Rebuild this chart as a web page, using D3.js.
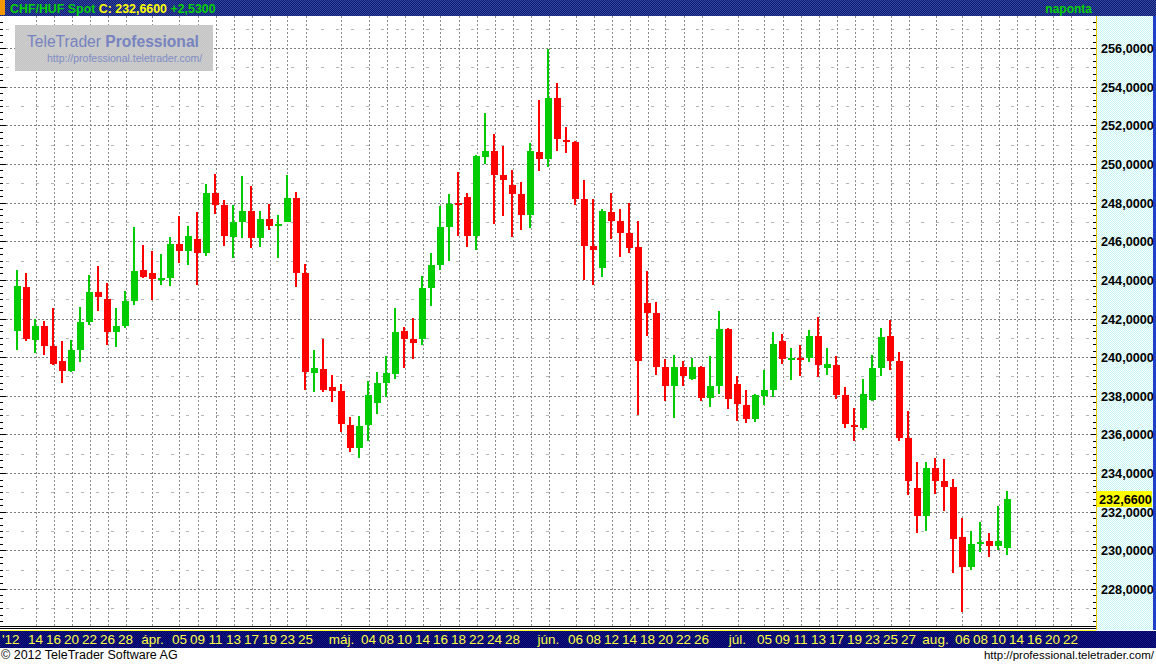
<!DOCTYPE html>
<html><head><meta charset="utf-8">
<script src="https://cdn.jsdelivr.net/npm/d3@7"></script>
<style>body{margin:0;background:#fff;overflow:hidden} svg{display:block}</style>
</head><body>
<svg id="c" width="1156" height="664"></svg>
<script>
// ---------- DATA ----------
const firstDay = "2012-03-12";      // first trading day shown
const lastAxisDay = "2012-08-24";   // axis extends beyond data
const opens  = [241.35,243.63,240.89,241.61,240.58,239.80,239.28,240.37,241.82,243.37,243.01,241.30,241.61,242.90,244.51,244.35,243.99,244.10,245.85,245.49,246.11,245.39,248.50,247.87,246.22,246.99,247.56,246.17,247.15,246.80,247.01,248.24,244.37,239.20,239.39,238.45,238.25,236.49,235.31,236.50,237.64,238.68,239.14,241.35,240.94,240.95,243.60,244.78,246.75,247.99,248.29,246.29,250.38,250.67,249.43,248.91,248.44,247.37,250.62,250.27,253.41,251.24,251.14,248.19,245.75,244.63,247.51,247.05,246.42,245.70,242.80,242.28,239.49,238.51,239.49,238.87,239.49,237.88,238.51,241.46,238.61,237.52,236.80,237.99,238.30,240.84,239.85,239.96,239.96,241.09,239.44,239.59,238.04,236.49,236.33,237.78,239.44,241.09,239.80,235.81,233.23,231.78,234.26,233.59,233.28,230.69,229.14,230.33,230.48,230.22,230.12];
const highs  = [244.51,244.35,241.97,241.87,242.54,240.83,240.89,242.59,244.25,244.72,243.84,242.54,243.42,246.74,245.80,245.49,245.34,246.22,247.30,246.79,247.51,248.96,249.48,248.13,247.87,249.37,248.86,247.56,247.92,247.36,249.43,248.55,244.82,240.37,240.94,239.07,238.61,236.90,236.95,238.76,239.23,240.06,242.54,241.56,242.02,244.20,245.39,247.82,248.44,249.58,248.49,250.46,252.63,251.55,250.93,249.69,249.06,251.08,253.31,255.95,254.19,251.90,251.19,249.17,248.19,247.67,248.50,247.67,247.98,247.05,244.46,242.85,239.90,240.11,239.80,239.96,239.54,240.06,242.39,241.51,239.02,238.30,238.09,239.33,241.30,241.20,240.47,240.63,241.40,242.08,240.47,240.06,238.45,237.37,238.87,240.11,241.51,241.92,240.27,237.21,234.57,234.57,234.78,234.73,233.69,231.67,231.00,231.45,230.90,232.29,233.07];
const lows   = [240.37,240.83,240.21,240.11,239.59,238.66,239.23,239.75,241.66,242.39,240.63,240.52,241.51,242.70,244.12,242.96,243.73,243.68,244.87,244.77,243.73,245.23,247.41,245.75,245.13,246.17,245.65,245.70,246.58,245.13,246.98,243.65,238.31,238.21,238.21,237.69,236.14,235.11,234.80,235.67,237.07,237.95,238.88,239.45,239.92,240.64,242.66,244.53,244.99,246.29,245.72,245.56,250.01,246.91,247.32,246.23,246.60,246.70,249.65,249.86,250.69,250.57,247.87,243.99,243.73,244.15,246.11,245.18,245.39,237.00,241.09,239.07,237.73,236.85,238.51,238.82,237.73,237.42,238.09,237.32,236.69,236.59,236.64,237.52,237.94,239.64,238.82,239.02,239.75,238.97,239.07,237.83,236.33,235.66,236.23,237.73,239.02,239.33,235.66,232.86,230.90,231.00,232.91,232.04,228.83,226.81,228.98,229.91,229.65,230.02,229.76];
const closes = [243.68,240.94,241.61,240.58,239.64,239.28,240.37,241.82,243.37,243.11,241.30,241.61,242.90,244.46,244.15,244.04,244.10,245.85,245.49,246.27,245.39,248.50,247.87,246.27,246.99,247.56,246.17,247.15,246.79,246.91,248.24,244.37,239.25,239.44,238.31,238.26,236.56,235.31,236.43,238.04,238.66,239.18,241.30,240.95,240.73,243.58,244.77,246.73,247.93,247.89,246.29,250.41,250.67,249.44,249.18,248.46,247.37,250.67,250.27,253.41,251.31,251.14,248.19,245.75,245.55,247.56,247.05,246.42,245.65,239.82,242.28,239.49,238.51,239.49,239.02,239.49,237.88,238.51,241.46,237.83,237.57,236.80,238.04,238.30,240.68,239.90,239.96,239.85,241.09,239.59,239.64,238.04,236.54,236.38,238.09,239.44,241.04,239.80,235.81,233.59,231.78,234.26,233.59,233.28,230.59,229.14,230.33,230.43,230.22,230.48,232.66];

const priceTicks = [228,230,232,234,236,238,240,242,244,246,248,250,252,254,256];
const halfTicks  = [227,229,231,233,235,237,239,241,243,245,247,249,251,253,255,257];
const dayTickDates = ["2012-03-14","2012-03-16","2012-03-20","2012-03-22","2012-03-26","2012-03-28",
  "2012-04-05","2012-04-09","2012-04-11","2012-04-13","2012-04-17","2012-04-19","2012-04-23","2012-04-25",
  "2012-05-04","2012-05-08","2012-05-10","2012-05-14","2012-05-16","2012-05-18","2012-05-22","2012-05-24","2012-05-28",
  "2012-06-06","2012-06-08","2012-06-12","2012-06-14","2012-06-18","2012-06-20","2012-06-22","2012-06-26",
  "2012-07-05","2012-07-09","2012-07-11","2012-07-13","2012-07-17","2012-07-19","2012-07-23","2012-07-25","2012-07-27",
  "2012-08-06","2012-08-08","2012-08-10","2012-08-14","2012-08-16","2012-08-20","2012-08-22"];
const monthTickDates = ["2012-04-02","2012-05-01","2012-06-01","2012-07-02","2012-08-01"];
const monthLabels = ["ápr.","máj.","jún.","júl.","aug."];
const unlabeledTickDates = ["2012-05-30"];
const yearLabel = "'12";
const titleName = "CHF/HUF Spot";
const titleClose = "C: 232,6600";
const titleChange = "+2,5300";
const periodLabel = "naponta";
const lastPrice = 232.66;
const fmt = v => d3.format(".4f")(v).replace(".", ",");

// ---------- LAYOUT ----------
const W = 1156, H = 664;
const plotL = 0, plotR = 1095, plotT = 16, plotB = 626;
const svg = d3.select("#c");
const defs = svg.append("defs");
function checker(id, a, b) {
  const p = defs.append("pattern").attr("id", id).attr("width", 2).attr("height", 2).attr("patternUnits", "userSpaceOnUse");
  p.append("rect").attr("width", 2).attr("height", 2).attr("fill", a);
  p.append("rect").attr("width", 1).attr("height", 1).attr("fill", b);
  p.append("rect").attr("x", 1).attr("y", 1).attr("width", 1).attr("height", 1).attr("fill", b);
}
checker("navyTop", "#0e1c74", "#33479e");
checker("navyBot", "#000060", "#101888");
checker("cyan", "#ffffff", "#c4f4f4");
checker("logo", "#c6c6c6", "#cccccc");

// trading days (weekdays) as categories
const parse = d3.utcParse("%Y-%m-%d");
const days = d3.utcDay.range(parse(firstDay), d3.utcDay.offset(parse(lastAxisDay), 1)).filter(d => d.getUTCDay() !== 0 && d.getUTCDay() !== 6);
const dayIndex = new Map(days.map((d, i) => [d3.utcFormat("%Y-%m-%d")(d), i]));
const x = d3.scaleLinear().domain([0, days.length - 1]).range([17.5, 17.5 + 9 * (days.length - 1)]);
const y = d3.scaleLinear().domain([228, 256]).range([589, 48]);

const candles = opens.map((o, i) => ({ i, o, h: highs[i], l: lows[i], c: closes[i] }));

svg.append("rect").attr("width", W).attr("height", H).attr("fill", "#fff");

// right price panel
svg.append("rect").attr("x", 1096).attr("y", 16).attr("width", 58).attr("height", 614).attr("fill", "url(#cyan)");

// grid
const g = svg.append("g").attr("shape-rendering", "crispEdges");
g.selectAll(".hl").data(halfTicks).join("line")
  .attr("x1", 6).attr("x2", plotR - 2)
  .attr("y1", d => Math.round(y(d)) + 0.5).attr("y2", d => Math.round(y(d)) + 0.5)
  .attr("stroke", "#b4b4b4").attr("stroke-dasharray", "3,12");
const vTicks = dayTickDates.concat(monthTickDates, unlabeledTickDates).map(d => dayIndex.get(d));
g.selectAll(".vl").data(vTicks).join("line")
  .attr("x1", d => Math.round(x(d)) + 0.5).attr("x2", d => Math.round(x(d)) + 0.5)
  .attr("y1", plotT).attr("y2", plotB)
  .attr("stroke", "#8c8c8c").attr("stroke-dasharray", "2,2");
g.selectAll(".gl").data(priceTicks).join("line")
  .attr("x1", 6).attr("x2", plotR - 2)
  .attr("y1", d => Math.round(y(d)) + 0.5).attr("y2", d => Math.round(y(d)) + 0.5)
  .attr("stroke", "#7c7c7c").attr("stroke-dasharray", "2,2");

// minor ticks on both price edges
const minor = d3.range(226 + 1/3, 257.6, 1/3);
const tk = svg.append("g").attr("shape-rendering", "crispEdges").attr("stroke", "#000");
tk.selectAll(".lt").data(minor).join("line")
  .attr("x1", 0).attr("x2", 3)
  .attr("y1", d => Math.round(y(d)) + 0.5).attr("y2", d => Math.round(y(d)) + 0.5);
tk.selectAll(".lt2").data(priceTicks).join("line")
  .attr("x1", 0).attr("x2", 6)
  .attr("y1", d => Math.round(y(d)) + 0.5).attr("y2", d => Math.round(y(d)) + 0.5);
tk.selectAll(".rt").data(minor).join("line")
  .attr("x1", 1093).attr("x2", 1096)
  .attr("y1", d => Math.round(y(d)) + 0.5).attr("y2", d => Math.round(y(d)) + 0.5);
tk.selectAll(".rt2").data(priceTicks).join("line")
  .attr("x1", 1091).attr("x2", 1096)
  .attr("y1", d => Math.round(y(d)) + 0.5).attr("y2", d => Math.round(y(d)) + 0.5);
svg.append("line").attr("x1", 1096.5).attr("x2", 1096.5).attr("y1", 16).attr("y2", 630)
  .attr("stroke", "#e8c800").attr("shape-rendering", "crispEdges");
svg.append("rect").attr("x", 1153).attr("y", 16).attr("width", 3).attr("height", 614).attr("fill", "#2040c8");

// candles
const cg = svg.append("g").attr("shape-rendering", "crispEdges");
const col = d => d.c >= d.o ? "#00cc00" : "#ff0000";
cg.selectAll(".wick").data(candles).join("rect")
  .attr("x", d => x(d.i) - 1.5).attr("width", 2)
  .attr("y", d => Math.round(y(d.h))).attr("height", d => Math.max(1, Math.round(y(d.l)) - Math.round(y(d.h))))
  .attr("fill", col);
cg.selectAll(".body").data(candles).join("rect")
  .attr("x", d => x(d.i) - 3.5).attr("width", 7)
  .attr("y", d => Math.round(y(Math.max(d.o, d.c))))
  .attr("height", d => Math.max(2, Math.round(y(Math.min(d.o, d.c))) - Math.round(y(Math.max(d.o, d.c)))))
  .attr("fill", col);

// price labels
svg.append("g").selectAll("text").data(priceTicks).join("text")
  .attr("x", 1101).attr("y", d => y(d) + 5)
  .attr("font-family", "Liberation Sans, Arial, sans-serif").attr("font-size", 12.7).attr("font-weight", "bold")
  .attr("fill", "#000").text(fmt);
svg.append("rect").attr("x", 1097).attr("y", Math.round(y(lastPrice)) - 8).attr("width", 55).attr("height", 16).attr("fill", "#ffff00");
svg.append("text").attr("x", 1099).attr("y", y(lastPrice) + 5)
  .attr("font-family", "Liberation Sans, Arial, sans-serif").attr("font-size", 12.7).attr("font-weight", "bold")
  .attr("fill", "#000").text(fmt(lastPrice));

// top bar
svg.append("rect").attr("x", 0).attr("y", 0).attr("width", W).attr("height", 16).attr("fill", "url(#navyTop)");
svg.append("rect").attr("x", 0).attr("y", 0).attr("width", 5).attr("height", 15).attr("fill", "#f39800");
const tt = svg.append("text").attr("x", 10).attr("y", 12.5)
  .attr("font-family", "Liberation Sans, Arial, sans-serif").attr("font-size", 12.4).attr("font-weight", "bold");
tt.append("tspan").attr("fill", "#00d000").text(titleName + " ");
tt.append("tspan").attr("fill", "#ffff00").text(titleClose + " ");
tt.append("tspan").attr("fill", "#00d000").text(titleChange);
svg.append("text").attr("x", 1092).attr("y", 12.5).attr("text-anchor", "end")
  .attr("font-family", "Liberation Sans, Arial, sans-serif").attr("font-size", 12).attr("font-weight", "bold")
  .attr("fill", "#00d000").text(periodLabel);

// logo
svg.append("rect").attr("x", 15).attr("y", 25).attr("width", 198).attr("height", 46).attr("fill", "url(#logo)");
const lt = svg.append("text").attr("x", 27).attr("y", 47)
  .attr("font-family", "Liberation Sans, Arial, sans-serif").attr("font-size", 15.6).attr("fill", "#7683c0");
lt.append("tspan").text("TeleTrader ");
lt.append("tspan").attr("font-weight", "bold").text("Professional");
svg.append("text").attr("x", 47).attr("y", 62)
  .attr("font-family", "Liberation Sans, Arial, sans-serif").attr("font-size", 10.5).attr("fill", "#7f8cc4")
  .text("http://professional.teletrader.com/");

// bottom axis
const ab = svg.append("g").attr("shape-rendering", "crispEdges");
ab.append("line").attr("x1", 0).attr("x2", 1096).attr("y1", 626.5).attr("y2", 626.5).attr("stroke", "#000");
ab.append("line").attr("x1", 0).attr("x2", 1096).attr("y1", 628.5).attr("y2", 628.5).attr("stroke", "#000");
ab.append("rect").attr("x", 0).attr("y", 631).attr("width", W).attr("height", 17).attr("fill", "url(#navyBot)");
ab.append("line").attr("x1", 0).attr("x2", 1096).attr("y1", 630.5).attr("y2", 630.5).attr("stroke", "#ffff30");
const axFont = "Liberation Sans Narrow, Arial Narrow, Liberation Sans, sans-serif";
const dayLabels = dayTickDates.map(d => ({ i: dayIndex.get(d), t: d.slice(8) }));
const monLabels = monthTickDates.map((d, k) => ({ i: dayIndex.get(d), t: monthLabels[k] }));
svg.append("g").selectAll("text").data(dayLabels.concat(monLabels)).join("text")
  .attr("x", d => x(d.i)).attr("y", 644).attr("text-anchor", "middle")
  .attr("font-family", axFont).attr("font-size", 13.5).attr("fill", "#ffff40").text(d => d.t);
svg.append("text").attr("x", 2).attr("y", 644).attr("font-family", axFont).attr("font-size", 13.5)
  .attr("fill", "#ffff40").text(yearLabel);

// footer
svg.append("text").attr("x", 1).attr("y", 659).attr("font-family", "Liberation Sans, Arial, sans-serif")
  .attr("font-size", 12.5).attr("fill", "#000").text("© 2012 TeleTrader Software AG");
svg.append("text").attr("x", 1154).attr("y", 659).attr("text-anchor", "end").attr("font-family", "Liberation Sans, Arial, sans-serif")
  .attr("font-size", 11.5).attr("fill", "#000").text("http://professional.teletrader.com/");
</script>
</body></html>
